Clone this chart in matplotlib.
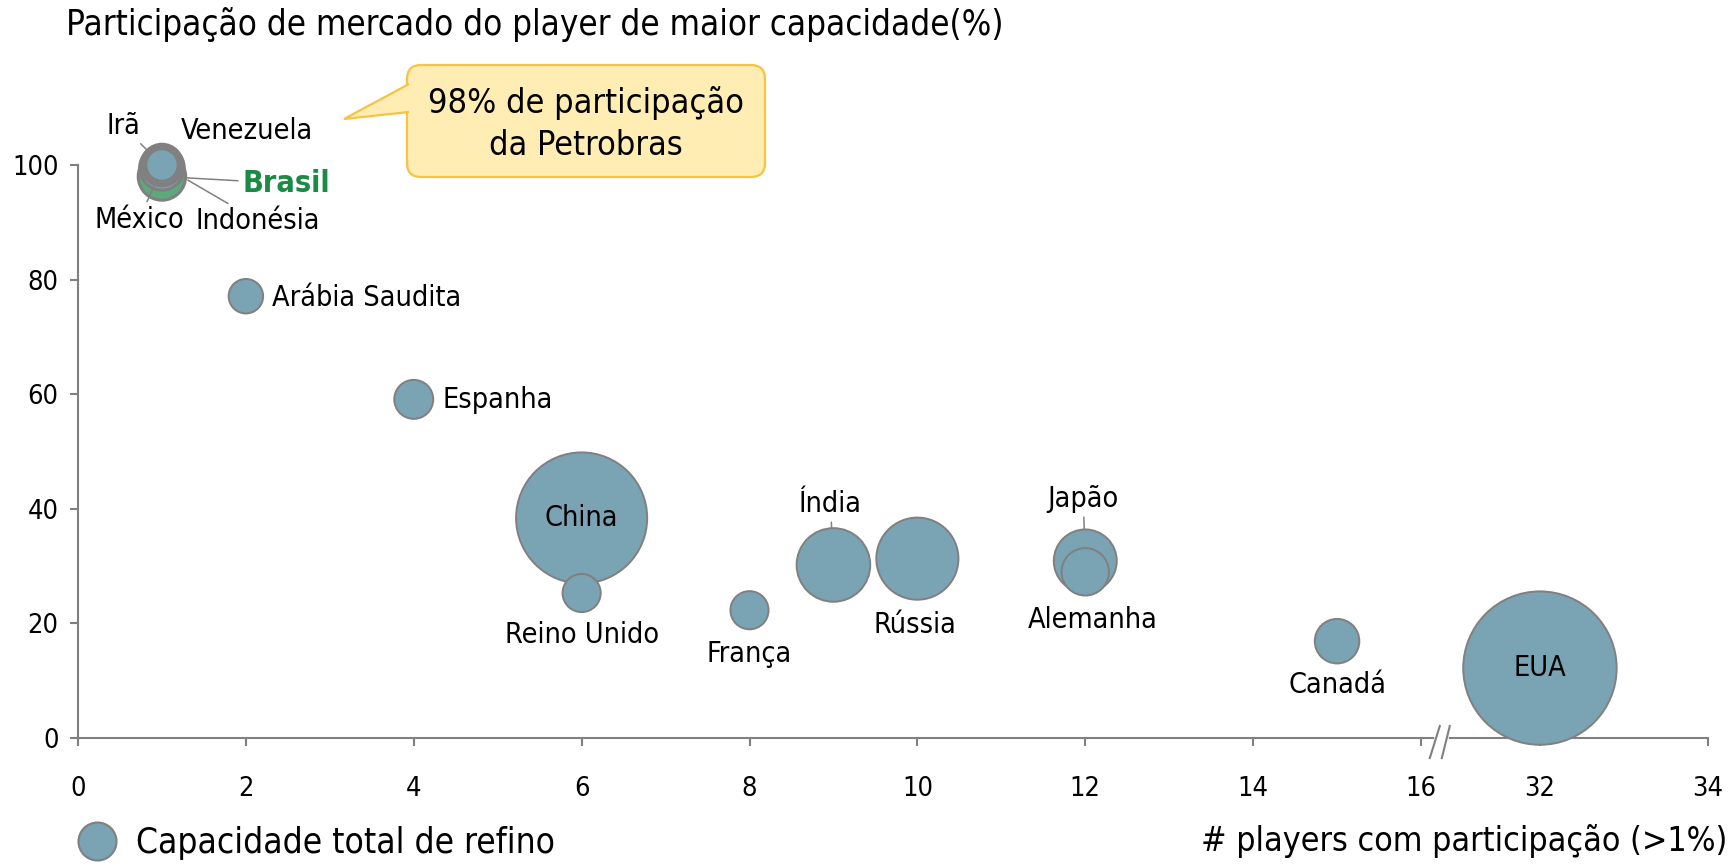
import numpy as np
import matplotlib
matplotlib.use("Agg")
import matplotlib.pyplot as plt
from matplotlib.lines import Line2D
from matplotlib.patches import FancyBboxPatch, Polygon
from matplotlib.transforms import IdentityTransform

# data
paises = ["EUA", "China", "Rússia", "Índia", "Japão", "Alemanha", "Brasil", "México",
          "Canadá", "Indonésia", "Espanha", "Reino Unido", "França", "Venezuela",
          "Arábia Saudita", "Irã"]
n_players = [32, 6, 10, 9, 12, 12, 1, 1, 15, 1, 4, 6, 8, 1, 2, 1]
participacao = [12.2, 38.4, 31.3, 30.2, 30.9, 29.0, 98.0, 99.5, 16.9, 100.0, 59.1,
                25.3, 22.3, 100.0, 77.1, 100.0]
capacidade = [17.8, 13.0, 5.1, 4.1, 3.0, 1.7, 1.7, 1.5, 1.5, 1.3, 1.15, 1.1, 1.1,
              1.1, 0.9, 0.8]   # mb/d, bubble area
x_ticks = [0, 2, 4, 6, 8, 10, 12, 14, 16, 32, 34]
y_ticks = [0, 20, 40, 60, 80, 100]

W, H = 1733, 865
PX = 72 / 100.0   # pixel -> point

azul = "#7AA3B4"
verde = "#5BAA7A"
cinza = "#808080"

# broken x axis: 16 -> 32 squeezed into GAP units
GAP = 1.417


def fwd(x):
    x = np.asarray(x, dtype=float)
    return np.where(x <= 16, x,
                    np.where(x >= 32, x - 32 + 16 + GAP, 16 + (x - 16) * GAP / 16))


def inv(p):
    p = np.asarray(p, dtype=float)
    return np.where(p <= 16, p,
                    np.where(p >= 16 + GAP, p - 16 - GAP + 32, 16 + (p - 16) * 16 / GAP))


plt.rcParams["font.family"] = ["DejaVu Sans"]
plt.rcParams["font.stretch"] = "condensed"

fig = plt.figure(figsize=(W / 100, H / 100), dpi=100)
ax = fig.add_axes([78 / W, 127 / H, (W - 78) / W, 573 / H])
ax.set_xscale("function", functions=(fwd, inv))
ax.set_xlim(0, 34.3)
ax.set_ylim(0, 100)

# bubbles, largest first so small ones stay on top
ordem = np.argsort(-np.array(capacidade), kind="stable")
px_por_cap = (2 * 76.7 * PX) ** 2 / 17.8
xs = np.array(n_players)[ordem]
ys = np.array(participacao)[ordem]
ss = np.array(capacidade)[ordem] * px_por_cap
cores = [verde if paises[i] == "Brasil" else azul for i in ordem]
lws = [2.2 if n_players[i] == 1 else 1.4 for i in ordem]
ax.scatter(xs, ys, s=ss, c=cores, edgecolors=cinza, linewidths=lws,
           zorder=4, clip_on=False)

# labels: offset in px (dx, dy), alignment, leader-line gap in px
rotulos = {
    "Irã": (-39, 39, "center", 22),
    "Venezuela": (85, 34, "center", None),
    "Brasil": (124, -7, "center", 24),
    "Indonésia": (96, -56, "center", 30),
    "México": (-23, -52, "center", 19),
    "Arábia Saudita": (26, -2, "left", None),
    "Espanha": (29, -1, "left", None),
    "China": (0, 0, "center", None),
    "Reino Unido": (0, -42, "center", None),
    "França": (0, -44, "center", None),
    "Índia": (-3, 61, "center", 37),
    "Rússia": (-2, -66, "center", None),
    "Japão": (-2, 62, "center", 32),
    "Alemanha": (7, -48, "center", None),
    "Canadá": (0, -44, "center", None),
    "EUA": (0, 0, "center", None),
}
for i, nome in enumerate(paises):
    dx, dy, ha, gap = rotulos[nome]
    kw = dict(fontsize=20.6, color="black")
    if nome == "Brasil":
        kw = dict(fontsize=22, color="#1A8A45", fontweight="bold")
    arrow = None
    if gap is not None:
        arrow = dict(arrowstyle="-", color=cinza, lw=1.1, shrinkA=1, shrinkB=gap * PX)
    ax.annotate(nome, xy=(n_players[i], participacao[i]), xytext=(dx * PX, dy * PX),
                textcoords="offset points", ha=ha, va="center", zorder=6,
                arrowprops=arrow, annotation_clip=False, **kw)

# axes styling
for s in ["top", "right"]:
    ax.spines[s].set_visible(False)
for s in ["left", "bottom"]:
    ax.spines[s].set_color(cinza)
    ax.spines[s].set_linewidth(1.5)
ax.spines["bottom"].set_bounds(0, 34)
ax.set_xticks(x_ticks)
ax.set_xticklabels([str(t) for t in x_ticks])
ax.set_yticks(y_ticks)
ax.tick_params(axis="x", length=6, width=1.5, color=cinza, pad=21, labelsize=19.5)
ax.tick_params(axis="y", length=6, width=1.5, color=cinza, pad=8, labelsize=19.5)
ax.set_yticks([20, 40, 60, 80, 100], minor=True)
ax.yaxis.grid(True, which="minor", color="#D9D9D9", lw=2, ls=(0, (4.7, 2.6)))
ax.tick_params(axis="y", which="minor", length=0)
ax.set_axisbelow(True)

# axis break marks
xt = ax.get_xaxis_transform()
ax.plot(inv([16.19, 16.30]), [0, 0], color="white", lw=4, transform=xt,
        clip_on=False, zorder=3)
for p0, p1 in [(16.105, 16.224), (16.248, 16.343)]:
    ax.plot(inv([p0, p1]), [-0.035, 0.021], color=cinza, lw=1.5, transform=xt,
            clip_on=False, zorder=3)

# titles
fig.text(66 / W, 1 - 25 / H, "Participação de mercado do player de maior capacidade(%)",
         fontsize=25, ha="left", va="center")
fig.text(1727 / W, 1 - 841 / H, "# players com participação (>1%)",
         fontsize=24.4, ha="right", va="center")

# legend
handle = Line2D([], [], marker="o", ls="", ms=38 * PX, mfc=azul, mec=cinza, mew=1.5)
fig.legend([handle], ["Capacidade total de refino"], loc="center left",
           bbox_to_anchor=(62 / W, 1 - 843 / H), frameon=False, fontsize=25.3,
           handlelength=2.0, handletextpad=0.1, borderpad=0, borderaxespad=0)

# callout
idt = IdentityTransform()
caixa = FancyBboxPatch((407, H - 177), 358, 112,
                       boxstyle="round,pad=0,rounding_size=14",
                       fc="#FFEDB3", ec="#F6C342", lw=1.6, transform=idt, zorder=10)
fig.add_artist(caixa)
bico = Polygon([(409, H - 84), (344, H - 119), (409, H - 112)], closed=False,
               fc="#FFEDB3", ec="#F6C342", lw=1.6, transform=idt, zorder=11)
fig.add_artist(bico)
fig.text(586 / W, 1 - 124 / H, "98% de participação\nda Petrobras", fontsize=24.6,
         ha="center", va="center", linespacing=1.35, zorder=12)

fig.savefig("out.png", dpi=100)
